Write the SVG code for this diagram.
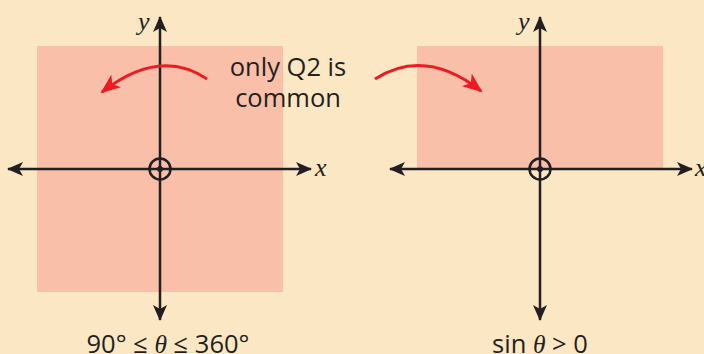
<svg xmlns="http://www.w3.org/2000/svg" width="704" height="354" viewBox="0 0 704 354">
  <defs>
    <marker id="ah" markerUnits="userSpaceOnUse" viewBox="0 0 16 14" refX="15" refY="7" markerWidth="16" markerHeight="14" orient="auto-start-reverse">
      <path d="M0,0 L16,7 L0,14 L4,7 z" fill="#231F20"/>
    </marker>
    <marker id="rh" markerUnits="userSpaceOnUse" viewBox="0 0 20 16" refX="18" refY="8" markerWidth="20" markerHeight="16" orient="auto">
      <path d="M0,0 L20,8 L0,16 L5,8 z" fill="#ED1C24"/>
    </marker>
  </defs>
  <style>
    .axis { stroke: #231F20; stroke-width: 2.5; fill: none; marker-start: url(#ah); marker-end: url(#ah); }
    .region { fill: #F9BFA8; }
    .lbl { font-family: "Open Sans", "Liberation Sans", sans-serif; font-size: 25.5px; fill: #231F20; text-anchor: middle; }
    .var { font-family: "Liberation Serif", serif; font-style: italic; font-size: 26px; fill: #231F20; }
    .red { stroke: #ED1C24; stroke-width: 3; fill: none; marker-end: url(#rh); }
    .org { stroke: #231F20; stroke-width: 2.5; fill: none; }
  </style>
  <rect width="704" height="354" fill="#FCE7C5"/>

  <g id="graph-left">
    <rect class="region" x="37" y="46" width="246" height="246"/>
    <g id="left-axes">
      <line class="axis" x1="8" y1="169" x2="311" y2="169"/>
      <line class="axis" x1="160" y1="320" x2="160" y2="17"/>
    </g>
    <circle class="org" cx="160" cy="169" r="10.5"/>
    <circle cx="160" cy="169" r="3" fill="#231F20"/>
    <text class="var" x="138" y="30">y</text>
    <text class="var" x="315" y="176">x</text>
    <text class="lbl" x="168" y="353">90° ≤ <tspan font-family="Liberation Serif, serif" font-style="italic">θ</tspan> ≤ 360°</text>
  </g>

  <g id="graph-right">
    <rect class="region" x="417" y="46" width="246" height="122"/>
    <g id="right-axes">
      <line class="axis" x1="390" y1="169" x2="692" y2="169"/>
      <line class="axis" x1="540" y1="320" x2="540" y2="17"/>
    </g>
    <circle class="org" cx="540" cy="169" r="10.5"/>
    <circle cx="540" cy="169" r="3" fill="#231F20"/>
    <text class="var" x="518" y="30">y</text>
    <text class="var" x="695" y="176">x</text>
    <text class="lbl" x="540" y="353">sin <tspan font-family="Liberation Serif, serif" font-style="italic">θ</tspan> &gt; 0</text>
  </g>

  <g id="note">
    <text class="lbl" x="288" y="76">only Q2 is</text>
    <text class="lbl" x="288" y="107">common</text>
  </g>

  <g id="connectors">
    <path class="red" d="M207,79 Q160,47 102,92"/>
    <path class="red" d="M375,79 Q425,47 481,91"/>
  </g>
</svg>
